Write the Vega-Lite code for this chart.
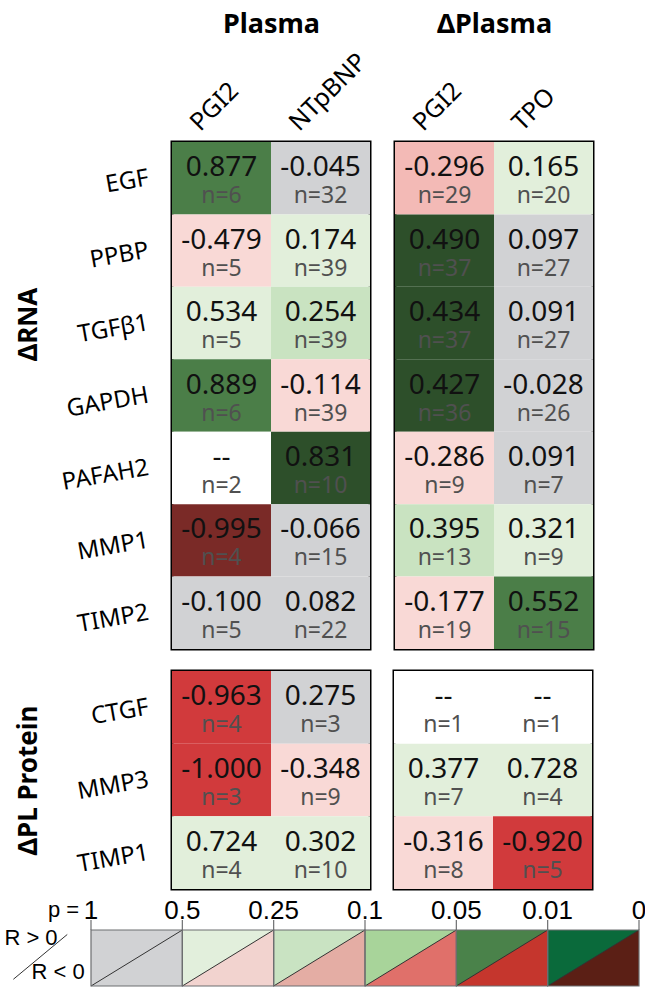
{
  "$schema": "https://vega.github.io/schema/vega-lite/v6.json",
  "background": "white",
  "padding": {"left": 4, "top": 8, "right": 0, "bottom": 0},
  "spacing": 6,
  "config": {
    "font": "Noto Sans",
    "view": {"stroke": "black", "strokeWidth": 3},
    "axis": {"domain": false, "ticks": false, "grid": false, "labelFont": "Noto Sans", "labelColor": "black", "titleColor": "black", "titleFont": "Noto Sans"}
  },
  "datasets": {
    "cells": [
      {"group": "ΔRNA", "block": "Plasma", "gene": "EGF", "col": "PGI2", "r": "0.877", "n": 6, "cls": "R>0 p<0.05"},
      {"group": "ΔRNA", "block": "Plasma", "gene": "EGF", "col": "NTpBNP", "r": "-0.045", "n": 32, "cls": "p>0.5"},
      {"group": "ΔRNA", "block": "Plasma", "gene": "PPBP", "col": "PGI2", "r": "-0.479", "n": 5, "cls": "R<0 p<0.5"},
      {"group": "ΔRNA", "block": "Plasma", "gene": "PPBP", "col": "NTpBNP", "r": "0.174", "n": 39, "cls": "R>0 p<0.5"},
      {"group": "ΔRNA", "block": "Plasma", "gene": "TGFβ1", "col": "PGI2", "r": "0.534", "n": 5, "cls": "R>0 p<0.5"},
      {"group": "ΔRNA", "block": "Plasma", "gene": "TGFβ1", "col": "NTpBNP", "r": "0.254", "n": 39, "cls": "R>0 p<0.25"},
      {"group": "ΔRNA", "block": "Plasma", "gene": "GAPDH", "col": "PGI2", "r": "0.889", "n": 6, "cls": "R>0 p<0.05"},
      {"group": "ΔRNA", "block": "Plasma", "gene": "GAPDH", "col": "NTpBNP", "r": "-0.114", "n": 39, "cls": "R<0 p<0.5"},
      {"group": "ΔRNA", "block": "Plasma", "gene": "PAFAH2", "col": "PGI2", "r": "--", "n": 2, "cls": "n/a"},
      {"group": "ΔRNA", "block": "Plasma", "gene": "PAFAH2", "col": "NTpBNP", "r": "0.831", "n": 10, "cls": "R>0 p<0.01"},
      {"group": "ΔRNA", "block": "Plasma", "gene": "MMP1", "col": "PGI2", "r": "-0.995", "n": 4, "cls": "R<0 p<0.01"},
      {"group": "ΔRNA", "block": "Plasma", "gene": "MMP1", "col": "NTpBNP", "r": "-0.066", "n": 15, "cls": "p>0.5"},
      {"group": "ΔRNA", "block": "Plasma", "gene": "TIMP2", "col": "PGI2", "r": "-0.100", "n": 5, "cls": "p>0.5"},
      {"group": "ΔRNA", "block": "Plasma", "gene": "TIMP2", "col": "NTpBNP", "r": "0.082", "n": 22, "cls": "p>0.5"},
      {"group": "ΔRNA", "block": "ΔPlasma", "gene": "EGF", "col": "PGI2", "r": "-0.296", "n": 29, "cls": "R<0 p<0.25"},
      {"group": "ΔRNA", "block": "ΔPlasma", "gene": "EGF", "col": "TPO", "r": "0.165", "n": 20, "cls": "R>0 p<0.5"},
      {"group": "ΔRNA", "block": "ΔPlasma", "gene": "PPBP", "col": "PGI2", "r": "0.490", "n": 37, "cls": "R>0 p<0.01"},
      {"group": "ΔRNA", "block": "ΔPlasma", "gene": "PPBP", "col": "TPO", "r": "0.097", "n": 27, "cls": "p>0.5"},
      {"group": "ΔRNA", "block": "ΔPlasma", "gene": "TGFβ1", "col": "PGI2", "r": "0.434", "n": 37, "cls": "R>0 p<0.01"},
      {"group": "ΔRNA", "block": "ΔPlasma", "gene": "TGFβ1", "col": "TPO", "r": "0.091", "n": 27, "cls": "p>0.5"},
      {"group": "ΔRNA", "block": "ΔPlasma", "gene": "GAPDH", "col": "PGI2", "r": "0.427", "n": 36, "cls": "R>0 p<0.01"},
      {"group": "ΔRNA", "block": "ΔPlasma", "gene": "GAPDH", "col": "TPO", "r": "-0.028", "n": 26, "cls": "p>0.5"},
      {"group": "ΔRNA", "block": "ΔPlasma", "gene": "PAFAH2", "col": "PGI2", "r": "-0.286", "n": 9, "cls": "R<0 p<0.5"},
      {"group": "ΔRNA", "block": "ΔPlasma", "gene": "PAFAH2", "col": "TPO", "r": "0.091", "n": 7, "cls": "p>0.5"},
      {"group": "ΔRNA", "block": "ΔPlasma", "gene": "MMP1", "col": "PGI2", "r": "0.395", "n": 13, "cls": "R>0 p<0.25"},
      {"group": "ΔRNA", "block": "ΔPlasma", "gene": "MMP1", "col": "TPO", "r": "0.321", "n": 9, "cls": "R>0 p<0.5"},
      {"group": "ΔRNA", "block": "ΔPlasma", "gene": "TIMP2", "col": "PGI2", "r": "-0.177", "n": 19, "cls": "R<0 p<0.5"},
      {"group": "ΔRNA", "block": "ΔPlasma", "gene": "TIMP2", "col": "TPO", "r": "0.552", "n": 15, "cls": "R>0 p<0.05"},
      {"group": "ΔPL Protein", "block": "Plasma", "gene": "CTGF", "col": "PGI2", "r": "-0.963", "n": 4, "cls": "R<0 p<0.05"},
      {"group": "ΔPL Protein", "block": "Plasma", "gene": "CTGF", "col": "NTpBNP", "r": "0.275", "n": 3, "cls": "p>0.5"},
      {"group": "ΔPL Protein", "block": "Plasma", "gene": "MMP3", "col": "PGI2", "r": "-1.000", "n": 3, "cls": "R<0 p<0.05"},
      {"group": "ΔPL Protein", "block": "Plasma", "gene": "MMP3", "col": "NTpBNP", "r": "-0.348", "n": 9, "cls": "R<0 p<0.5"},
      {"group": "ΔPL Protein", "block": "Plasma", "gene": "TIMP1", "col": "PGI2", "r": "0.724", "n": 4, "cls": "R>0 p<0.5"},
      {"group": "ΔPL Protein", "block": "Plasma", "gene": "TIMP1", "col": "NTpBNP", "r": "0.302", "n": 10, "cls": "R>0 p<0.5"},
      {"group": "ΔPL Protein", "block": "ΔPlasma", "gene": "CTGF", "col": "PGI2", "r": "--", "n": 1, "cls": "n/a"},
      {"group": "ΔPL Protein", "block": "ΔPlasma", "gene": "CTGF", "col": "TPO", "r": "--", "n": 1, "cls": "n/a"},
      {"group": "ΔPL Protein", "block": "ΔPlasma", "gene": "MMP3", "col": "PGI2", "r": "0.377", "n": 7, "cls": "R>0 p<0.5"},
      {"group": "ΔPL Protein", "block": "ΔPlasma", "gene": "MMP3", "col": "TPO", "r": "0.728", "n": 4, "cls": "R>0 p<0.5"},
      {"group": "ΔPL Protein", "block": "ΔPlasma", "gene": "TIMP1", "col": "PGI2", "r": "-0.316", "n": 8, "cls": "R<0 p<0.5"},
      {"group": "ΔPL Protein", "block": "ΔPlasma", "gene": "TIMP1", "col": "TPO", "r": "-0.920", "n": 5, "cls": "R<0 p<0.05"}
    ],
    "legend": [
      {"bin": "0.5-1", "x0": 0, "x1": 1},
      {"bin": "0.25-0.5", "x0": 1, "x1": 2},
      {"bin": "0.1-0.25", "x0": 2, "x1": 3},
      {"bin": "0.05-0.1", "x0": 3, "x1": 4},
      {"bin": "0.01-0.05", "x0": 4, "x1": 5},
      {"bin": "0-0.01", "x0": 5, "x1": 6}
    ],
    "legendTri": [
      {"bin": "0.5-1", "x": 0, "y": 0, "ytop": 1}, {"bin": "0.5-1", "x": 1, "y": 1, "ytop": 1},
      {"bin": "0.25-0.5", "x": 1, "y": 0, "ytop": 1}, {"bin": "0.25-0.5", "x": 2, "y": 1, "ytop": 1},
      {"bin": "0.1-0.25", "x": 2, "y": 0, "ytop": 1}, {"bin": "0.1-0.25", "x": 3, "y": 1, "ytop": 1},
      {"bin": "0.05-0.1", "x": 3, "y": 0, "ytop": 1}, {"bin": "0.05-0.1", "x": 4, "y": 1, "ytop": 1},
      {"bin": "0.01-0.05", "x": 4, "y": 0, "ytop": 1}, {"bin": "0.01-0.05", "x": 5, "y": 1, "ytop": 1},
      {"bin": "0-0.01", "x": 5, "y": 0, "ytop": 1}, {"bin": "0-0.01", "x": 6, "y": 1, "ytop": 1}
    ],
    "legendTicks": [
      {"pos": 0, "label": "1"}, {"pos": 1, "label": "0.5"}, {"pos": 2, "label": "0.25"},
      {"pos": 3, "label": "0.1"}, {"pos": 4, "label": "0.05"}, {"pos": 5, "label": "0.01"}, {"pos": 6, "label": "0"}
    ],
    "legendNotes": [
      {"text": "p =", "x": -0.3, "y": 1.36},
      {"text": "R > 0", "x": -0.657, "y": 0.85},
      {"text": "R < 0", "x": -0.36, "y": 0.25}
    ],
    "legendSlash": [{"x": -0.85, "y": 0.12, "x2": -0.26, "y2": 0.92}]
  },
  "vconcat": [
    {
      "spacing": 18,
      "vconcat": [
        {
          "spacing": 20,
          "hconcat": [
            {
              "width": 198, "height": 507,
              "data": {"name": "cells"},
              "transform": [{"filter": "datum.group == 'ΔRNA' && datum.block == 'Plasma'"}, {"calculate": "'n=' + datum.n", "as": "nlabel"}],
              "encoding": {
                "x": {"field": "col", "type": "nominal", "sort": ["PGI2", "NTpBNP"], "scale": {"paddingInner": 0, "paddingOuter": 0},
                  "axis": {"orient": "top", "title": "Plasma", "titleFontSize": 27, "titleFontWeight": "bold", "titleY": -110, "titleBaseline": "alphabetic",
                    "labelAngle": -45, "labelFontSize": 25, "labelAlign": "left", "labelBaseline": "middle", "labelOffset": -27, "labelPadding": 16}},
                "y": {"field": "gene", "type": "nominal", "sort": ["EGF", "PPBP", "TGFβ1", "GAPDH", "PAFAH2", "MMP1", "TIMP2"], "scale": {"paddingInner": 0, "paddingOuter": 0},
                  "axis": {"title": "ΔRNA", "titleFontSize": 26, "titleFontWeight": "bold", "titleAngle": -90, "titleX": -136, "titleY": 182, "titleBaseline": "alphabetic", "titleAlign": "center",
                    "labelFontSize": 24, "labelAngle": -10, "labelAlign": "right", "labelBaseline": "middle", "labelPadding": 24}}
              },
              "layer": [
                {"mark": {"type": "rect"}, "encoding": {"color": {"field": "cls", "type": "nominal", "legend": null,
                  "scale": {"domain": ["p>0.5", "R>0 p<0.5", "R<0 p<0.5", "R>0 p<0.25", "R<0 p<0.25", "R>0 p<0.05", "R<0 p<0.05", "R>0 p<0.01", "R<0 p<0.01", "n/a"],
                    "range": ["#d1d2d4", "#e2efdb", "#f9d9d6", "#c9e3c1", "#f3bab6", "#4b7e48", "#d13a3c", "#2d4f2a", "#7a2a27", "#ffffff"]}}}},
                {"mark": {"type": "text", "dy": -10, "fontSize": 28, "color": "#111111"}, "encoding": {"text": {"field": "r"}}},
                {"mark": {"type": "text", "dy": 18, "fontSize": 23, "color": "#505050"}, "encoding": {"text": {"field": "nlabel"}}}
              ]
            },
            {
              "width": 198, "height": 507,
              "data": {"name": "cells"},
              "transform": [{"filter": "datum.group == 'ΔRNA' && datum.block == 'ΔPlasma'"}, {"calculate": "'n=' + datum.n", "as": "nlabel"}],
              "encoding": {
                "x": {"field": "col", "type": "nominal", "sort": ["PGI2", "TPO"], "scale": {"paddingInner": 0, "paddingOuter": 0},
                  "axis": {"orient": "top", "title": "ΔPlasma", "titleFontSize": 27, "titleFontWeight": "bold", "titleY": -110, "titleBaseline": "alphabetic",
                    "labelAngle": -45, "labelFontSize": 25, "labelAlign": "left", "labelBaseline": "middle", "labelOffset": -27, "labelPadding": 16}},
                "y": {"field": "gene", "type": "nominal", "sort": ["EGF", "PPBP", "TGFβ1", "GAPDH", "PAFAH2", "MMP1", "TIMP2"], "scale": {"paddingInner": 0, "paddingOuter": 0}, "axis": null}
              },
              "layer": [
                {"mark": {"type": "rect"}, "encoding": {"color": {"field": "cls", "type": "nominal", "legend": null,
                  "scale": {"domain": ["p>0.5", "R>0 p<0.5", "R<0 p<0.5", "R>0 p<0.25", "R<0 p<0.25", "R>0 p<0.05", "R<0 p<0.05", "R>0 p<0.01", "R<0 p<0.01", "n/a"],
                    "range": ["#d1d2d4", "#e2efdb", "#f9d9d6", "#c9e3c1", "#f3bab6", "#4b7e48", "#d13a3c", "#2d4f2a", "#7a2a27", "#ffffff"]}}}},
                {"mark": {"type": "text", "dy": -10, "fontSize": 28, "color": "#111111"}, "encoding": {"text": {"field": "r"}}},
                {"mark": {"type": "text", "dy": 18, "fontSize": 23, "color": "#505050"}, "encoding": {"text": {"field": "nlabel"}}}
              ]
            }
          ]
        },
        {
          "spacing": 20,
          "hconcat": [
            {
              "width": 198, "height": 218,
              "data": {"name": "cells"},
              "transform": [{"filter": "datum.group == 'ΔPL Protein' && datum.block == 'Plasma'"}, {"calculate": "'n=' + datum.n", "as": "nlabel"}],
              "encoding": {
                "x": {"field": "col", "type": "nominal", "sort": ["PGI2", "NTpBNP"], "scale": {"paddingInner": 0, "paddingOuter": 0}, "axis": null},
                "y": {"field": "gene", "type": "nominal", "sort": ["CTGF", "MMP3", "TIMP1"], "scale": {"paddingInner": 0, "paddingOuter": 0},
                  "axis": {"title": "ΔPL Protein", "titleFontSize": 26, "titleFontWeight": "bold", "titleAngle": -90, "titleX": -136, "titleBaseline": "alphabetic", "titleAlign": "center",
                    "labelFontSize": 24, "labelAngle": -10, "labelAlign": "right", "labelBaseline": "middle", "labelPadding": 24}}
              },
              "layer": [
                {"mark": {"type": "rect"}, "encoding": {"color": {"field": "cls", "type": "nominal", "legend": null,
                  "scale": {"domain": ["p>0.5", "R>0 p<0.5", "R<0 p<0.5", "R>0 p<0.25", "R<0 p<0.25", "R>0 p<0.05", "R<0 p<0.05", "R>0 p<0.01", "R<0 p<0.01", "n/a"],
                    "range": ["#d1d2d4", "#e2efdb", "#f9d9d6", "#c9e3c1", "#f3bab6", "#4b7e48", "#d13a3c", "#2d4f2a", "#7a2a27", "#ffffff"]}}}},
                {"mark": {"type": "text", "dy": -10, "fontSize": 28, "color": "#111111"}, "encoding": {"text": {"field": "r"}}},
                {"mark": {"type": "text", "dy": 18, "fontSize": 23, "color": "#505050"}, "encoding": {"text": {"field": "nlabel"}}}
              ]
            },
            {
              "width": 198, "height": 218,
              "data": {"name": "cells"},
              "transform": [{"filter": "datum.group == 'ΔPL Protein' && datum.block == 'ΔPlasma'"}, {"calculate": "'n=' + datum.n", "as": "nlabel"}],
              "encoding": {
                "x": {"field": "col", "type": "nominal", "sort": ["PGI2", "TPO"], "scale": {"paddingInner": 0, "paddingOuter": 0}, "axis": null},
                "y": {"field": "gene", "type": "nominal", "sort": ["CTGF", "MMP3", "TIMP1"], "scale": {"paddingInner": 0, "paddingOuter": 0}, "axis": null}
              },
              "layer": [
                {"mark": {"type": "rect"}, "encoding": {"color": {"field": "cls", "type": "nominal", "legend": null,
                  "scale": {"domain": ["p>0.5", "R>0 p<0.5", "R<0 p<0.5", "R>0 p<0.25", "R<0 p<0.25", "R>0 p<0.05", "R<0 p<0.05", "R>0 p<0.01", "R<0 p<0.01", "n/a"],
                    "range": ["#d1d2d4", "#e2efdb", "#f9d9d6", "#c9e3c1", "#f3bab6", "#4b7e48", "#d13a3c", "#2d4f2a", "#7a2a27", "#ffffff"]}}}},
                {"mark": {"type": "text", "dy": -10, "fontSize": 28, "color": "#111111"}, "encoding": {"text": {"field": "r"}}},
                {"mark": {"type": "text", "dy": 18, "fontSize": 23, "color": "#505050"}, "encoding": {"text": {"field": "nlabel"}}}
              ]
            }
          ]
        }
      ]
    },
    {
      "width": 467, "height": 56,
      "view": {"stroke": null},
      "resolve": {"scale": {"color": "independent", "fill": "independent"}},
      "layer": [
        {"data": {"name": "legend"}, "mark": {"type": "rect", "strokeWidth": 0},
          "encoding": {
            "x": {"field": "x0", "type": "quantitative", "scale": {"domain": [0, 6], "range": [-81, 467], "nice": false, "zero": false}, "axis": null},
            "x2": {"field": "x1"},
            "y": {"datum": 0, "type": "quantitative", "scale": {"domain": [0, 1], "nice": false, "zero": false}, "axis": null},
            "y2": {"datum": 1},
            "fill": {"field": "bin", "type": "nominal", "legend": null,
              "scale": {"domain": ["0.5-1", "0.25-0.5", "0.1-0.25", "0.05-0.1", "0.01-0.05", "0-0.01"], "range": ["#d1d2d4", "#f2d3cf", "#e4ada4", "#e0706a", "#c5362d", "#5b1f15"]}}
          }},
        {"data": {"name": "legendTri"}, "mark": {"type": "area", "opacity": 1},
          "encoding": {
            "x": {"field": "x", "type": "quantitative"},
            "y": {"field": "y", "type": "quantitative"},
            "y2": {"field": "ytop"},
            "detail": {"field": "bin"},
            "color": {"field": "bin", "type": "nominal", "legend": null,
              "scale": {"domain": ["0.5-1", "0.25-0.5", "0.1-0.25", "0.05-0.1", "0.01-0.05", "0-0.01"], "range": ["#d1d2d4", "#e2efdc", "#c9e3c2", "#a8d49a", "#4a824a", "#0a6a3b"]}}
          }},
        {"data": {"name": "legend"}, "mark": {"type": "rule", "color": "#333333", "strokeWidth": 1},
          "encoding": {"x": {"field": "x0", "type": "quantitative"}, "x2": {"field": "x1"}, "y": {"datum": 0, "type": "quantitative"}, "y2": {"datum": 1}}},
        {"data": {"name": "legend"}, "mark": {"type": "rect", "fill": "transparent", "stroke": "#6d6e70", "strokeWidth": 1.2},
          "encoding": {"x": {"field": "x0", "type": "quantitative"}, "x2": {"field": "x1"}, "y": {"datum": 0, "type": "quantitative"}, "y2": {"datum": 1}}},
        {"data": {"name": "legendTicks"}, "mark": {"type": "rule", "color": "#6d6e70", "strokeWidth": 1.2},
          "encoding": {"x": {"field": "pos", "type": "quantitative"}, "y": {"datum": 1, "type": "quantitative"}, "y2": {"datum": 1.18}}},
        {"data": {"name": "legendTicks"}, "mark": {"type": "text", "font": "Liberation Sans", "fontSize": 26, "baseline": "alphabetic", "align": "center", "color": "black"},
          "encoding": {"x": {"field": "pos", "type": "quantitative"}, "y": {"datum": 1.2, "type": "quantitative"}, "text": {"field": "label"}}},
        {"data": {"name": "legendNotes"}, "mark": {"type": "text", "font": "Liberation Sans", "fontSize": 22, "baseline": "middle", "align": "center", "color": "black"},
          "encoding": {"x": {"field": "x", "type": "quantitative"}, "y": {"field": "y", "type": "quantitative"}, "text": {"field": "text"}}},
        {"data": {"name": "legendSlash"}, "mark": {"type": "rule", "color": "#333333", "strokeWidth": 1},
          "encoding": {"x": {"field": "x", "type": "quantitative"}, "y": {"field": "y", "type": "quantitative"}, "x2": {"field": "x2"}, "y2": {"field": "y2"}}}
      ]
    }
  ],
  "resolve": {"scale": {"color": "independent", "fill": "independent"}}
}
